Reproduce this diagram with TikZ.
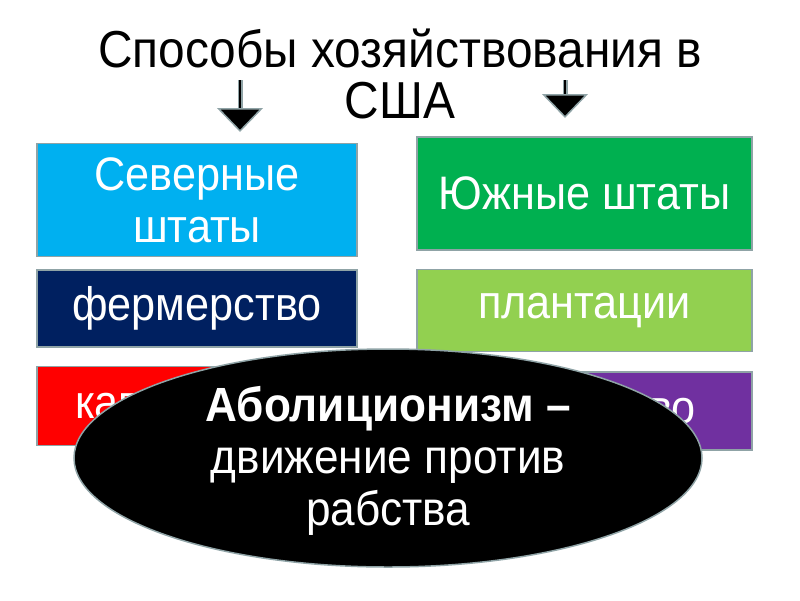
\documentclass[tikz,border=0pt]{standalone}
\usepackage{fontspec}
\setmainfont{Liberation Sans}
\newfontfamily\slidefont[FakeStretch=0.92]{Liberation Sans}
\usepackage{xcolor}
\usetikzlibrary{arrows.meta, positioning, shapes.geometric}

\definecolor{edgegray}{HTML}{8FA3A6}
\definecolor{northblue}{HTML}{00B0F0}
\definecolor{southgreen}{HTML}{00B050}
\definecolor{farmnavy}{HTML}{002060}
\definecolor{plantgreen}{HTML}{92D050}
\definecolor{capred}{HTML}{FF0000}
\definecolor{slavepurple}{HTML}{7030A0}

\begin{document}
\begin{tikzpicture}[
    x=1pt, y=-1pt,
    box/.style={rectangle, draw=edgegray, line width=1.5pt, text=white, align=center, inner sep=0pt, font=\slidefont\fontsize{47}{52}\selectfont},
    downarrow/.style={draw=black, line width=2.5pt, -{Triangle[width=46pt, length=24pt, fill=black, color=edgegray, line width=1.5pt]}, preaction={draw=edgegray, line width=5pt, shorten >=20pt, arrows=-}}
]
\useasboundingbox (0,0) rectangle (800,600);

% title
\node[align=center, anchor=base, inner sep=0pt, font=\slidefont\fontsize{52}{51}\selectfont] (title) at (400,118) {Способы хозяйствования в\\США};

% arrows from the title
\coordinate (leftstart) at (240,80);
\coordinate (lefttip) at (240,132);
\coordinate (rightstart) at (565,80);
\coordinate (righttip) at (565,118);
\draw[downarrow] (leftstart) -- (lefttip);
\draw[downarrow] (rightstart) -- (righttip);

% northern column
\node[box, fill=northblue, minimum width=320pt, minimum height=113pt] (north) at (197,200) {Северные\\штаты};
\node[box, fill=farmnavy, minimum width=320pt, minimum height=77pt, below=12pt of north] (farming) {фермерство};
\node[box, fill=capred, minimum width=320pt, minimum height=79pt, below=18pt of farming, text width=244pt, align=left] (capital) {капитализм};

% southern column
\node[box, fill=southgreen, minimum width=335pt, minimum height=113pt] (south) at (584.5,193.5) {Южные штаты};
\node[box, fill=plantgreen, minimum width=335pt, minimum height=82pt, below=18pt of south] (plantation) {плантации};
\node[box, fill=slavepurple, minimum width=327pt, minimum height=78pt, below=19pt of plantation.south east, anchor=north east, text width=215pt, align=right] (slavery) {рабство};

% overlay
\node[ellipse, fill=black, draw=edgegray, line width=1.5pt, minimum width=628pt, minimum height=218pt] (abolition) at (388,458) {};
\node[text=white, align=center, inner sep=0pt, font=\slidefont\fontsize{48}{52}\selectfont] (abolitiontext) at (388,461) {\textbf{Аболиционизм –}\\движение против\\рабства};

\end{tikzpicture}
\end{document}
